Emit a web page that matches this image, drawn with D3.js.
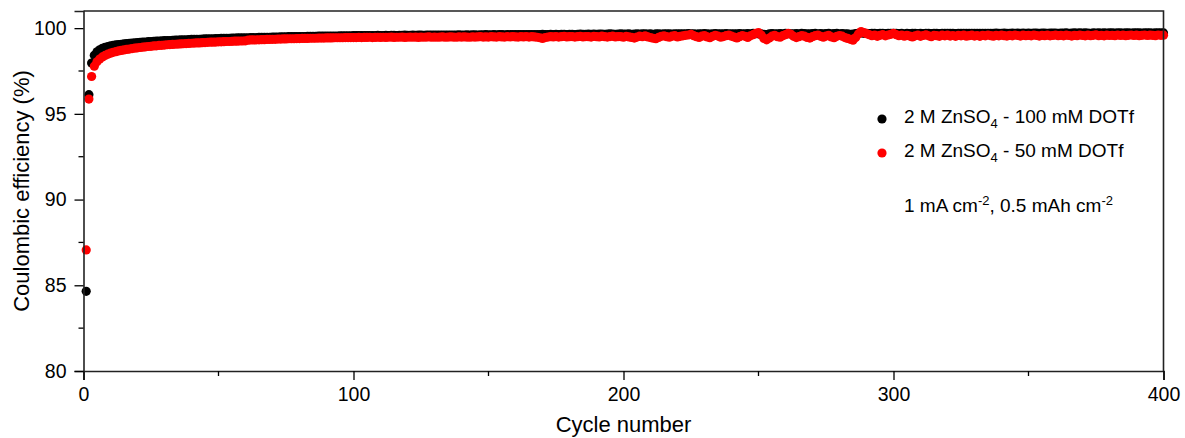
<!DOCTYPE html>
<html>
<head>
  <meta charset="utf-8">
  <script src="https://d3js.org/d3.v7.min.js"></script>
  <style>
    body { margin: 0; background: #fff; }
    svg text { font-family: Arial, "Liberation Sans", sans-serif; fill: #000; }
    .axis-title { font-size: 22px; }
    .legend { font-size: 19px; }
  </style>
</head>
<body>
  <div id="chart"></div>
  <script>
    // Coulombic efficiency (%) per cycle
    // 2 M ZnSO4 - 100 mM DOTf
    var ce100 = [
      84.65, 96.12, 97.96, 98.42, 98.62, 98.74, 98.82, 98.88, 98.92, 98.96, 98.99, 99.02, 99.04, 99.06, 99.08, 99.10, 99.11, 99.13, 99.14, 99.16,
      99.17, 99.18, 99.19, 99.21, 99.22, 99.23, 99.24, 99.25, 99.26, 99.27, 99.27, 99.28, 99.29, 99.30, 99.30, 99.31, 99.32, 99.32, 99.33, 99.34,
      99.34, 99.35, 99.35, 99.36, 99.37, 99.37, 99.38, 99.38, 99.39, 99.39, 99.40, 99.40, 99.41, 99.41, 99.42, 99.42, 99.43, 99.43, 99.43, 99.44,
      99.44, 99.45, 99.45, 99.45, 99.46, 99.46, 99.47, 99.47, 99.47, 99.48, 99.48, 99.48, 99.49, 99.49, 99.49, 99.50, 99.50, 99.50, 99.51, 99.51,
      99.51, 99.51, 99.52, 99.52, 99.52, 99.52, 99.53, 99.53, 99.53, 99.53, 99.54, 99.54, 99.54, 99.54, 99.55, 99.55, 99.55, 99.55, 99.55, 99.56,
      99.56, 99.56, 99.57, 99.56, 99.57, 99.57, 99.56, 99.57, 99.58, 99.57, 99.57, 99.58, 99.57, 99.58, 99.58, 99.57, 99.58, 99.58, 99.59, 99.58,
      99.58, 99.59, 99.58, 99.59, 99.59, 99.58, 99.59, 99.59, 99.60, 99.59, 99.59, 99.60, 99.59, 99.60, 99.60, 99.59, 99.60, 99.60, 99.61, 99.60,
      99.60, 99.61, 99.60, 99.61, 99.61, 99.60, 99.61, 99.61, 99.62, 99.61, 99.61, 99.62, 99.61, 99.62, 99.62, 99.61, 99.62, 99.62, 99.63, 99.62,
      99.62, 99.63, 99.62, 99.63, 99.62, 99.63, 99.63, 99.62, 99.63, 99.64, 99.63, 99.63, 99.64, 99.63, 99.64, 99.63, 99.64, 99.64, 99.63, 99.64,
      99.64, 99.63, 99.64, 99.65, 99.64, 99.64, 99.65, 99.64, 99.65, 99.64, 99.65, 99.65, 99.64, 99.65, 99.66, 99.65, 99.64, 99.65, 99.66, 99.65,
      99.65, 99.66, 99.64, 99.65, 99.66, 99.65, 99.66, 99.67, 99.65, 99.66, 99.64, 99.66, 99.67, 99.65, 99.66, 99.67, 99.66, 99.65, 99.67, 99.66,
      99.66, 99.67, 99.66, 99.68, 99.66, 99.67, 99.65, 99.66, 99.67, 99.68, 99.66, 99.65, 99.67, 99.68, 99.66, 99.67, 99.66, 99.68, 99.67, 99.66,
      99.67, 99.66, 99.68, 99.67, 99.66, 99.68, 99.67, 99.69, 99.68, 99.67, 99.66, 99.64, 99.62, 99.66, 99.68, 99.67, 99.66, 99.68, 99.67, 99.69,
      99.68, 99.67, 99.66, 99.68, 99.67, 99.69, 99.68, 99.66, 99.67, 99.68, 99.69, 99.67, 99.68, 99.66, 99.68, 99.69, 99.67, 99.68, 99.69, 99.67,
      99.68, 99.67, 99.66, 99.64, 99.65, 99.68, 99.70, 99.72, 99.70, 99.69, 99.68, 99.70, 99.69, 99.68, 99.70, 99.69, 99.68, 99.70, 99.69, 99.70,
      99.69, 99.68, 99.69, 99.67, 99.69, 99.68, 99.69, 99.70, 99.68, 99.69, 99.68, 99.70, 99.69, 99.68, 99.70, 99.69, 99.68, 99.70, 99.69, 99.70,
      99.69, 99.70, 99.68, 99.70, 99.69, 99.70, 99.69, 99.70, 99.69, 99.70, 99.70, 99.69, 99.70, 99.70, 99.69, 99.70, 99.70, 99.71, 99.69, 99.70,
      99.71, 99.70, 99.69, 99.71, 99.70, 99.71, 99.70, 99.71, 99.69, 99.71, 99.70, 99.71, 99.71, 99.70, 99.71, 99.71, 99.70, 99.71, 99.71, 99.71,
      99.70, 99.71, 99.71, 99.72, 99.70, 99.71, 99.72, 99.71, 99.72, 99.71, 99.72, 99.71, 99.70, 99.72, 99.71, 99.72, 99.71, 99.72, 99.71, 99.72,
      99.72, 99.71, 99.72, 99.72, 99.71, 99.72, 99.72, 99.71, 99.72, 99.72, 99.73, 99.71, 99.72, 99.72, 99.72, 99.71, 99.72, 99.72, 99.73, 99.72
    ];
    // 2 M ZnSO4 - 50 mM DOTf
    var ce50 = [
      87.06, 95.86, 97.18, 97.78, 98.04, 98.20, 98.32, 98.41, 98.48, 98.54, 98.59, 98.63, 98.67, 98.70, 98.73, 98.76, 98.78, 98.81, 98.83, 98.85,
      98.87, 98.89, 98.91, 98.93, 98.94, 98.96, 98.97, 98.99, 99.00, 99.01, 99.03, 99.04, 99.05, 99.06, 99.07, 99.08, 99.09, 99.10, 99.11, 99.12,
      99.13, 99.14, 99.14, 99.15, 99.16, 99.17, 99.18, 99.18, 99.19, 99.20, 99.20, 99.21, 99.22, 99.22, 99.23, 99.24, 99.24, 99.25, 99.25, 99.26,
      99.30, 99.31, 99.31, 99.32, 99.32, 99.33, 99.33, 99.34, 99.34, 99.35, 99.35, 99.36, 99.36, 99.37, 99.37, 99.38, 99.38, 99.38, 99.39, 99.39,
      99.40, 99.40, 99.40, 99.41, 99.41, 99.41, 99.42, 99.42, 99.42, 99.43, 99.43, 99.43, 99.44, 99.44, 99.44, 99.44, 99.45, 99.45, 99.45, 99.45,
      99.45, 99.46, 99.45, 99.46, 99.46, 99.47, 99.45, 99.46, 99.47, 99.46, 99.47, 99.46, 99.47, 99.48, 99.46, 99.47, 99.47, 99.48, 99.46, 99.47,
      99.48, 99.47, 99.48, 99.46, 99.48, 99.47, 99.48, 99.49, 99.47, 99.48, 99.47, 99.48, 99.49, 99.47, 99.48, 99.49, 99.48, 99.47, 99.49, 99.48,
      99.49, 99.48, 99.47, 99.49, 99.48, 99.49, 99.50, 99.48, 99.49, 99.48, 99.50, 99.49, 99.48, 99.50, 99.49, 99.48, 99.50, 99.49, 99.51, 99.49,
      99.48, 99.50, 99.49, 99.51, 99.48, 99.50, 99.49, 99.47, 99.44, 99.40, 99.45, 99.48, 99.50, 99.49, 99.51, 99.48, 99.50, 99.52, 99.49, 99.50,
      99.51, 99.48, 99.50, 99.52, 99.49, 99.51, 99.50, 99.48, 99.52, 99.50, 99.49, 99.53, 99.50, 99.48, 99.51, 99.53, 99.49, 99.51, 99.50, 99.47,
      99.52, 99.49, 99.46, 99.42, 99.48, 99.53, 99.50, 99.55, 99.49, 99.45, 99.41, 99.38, 99.46, 99.52, 99.55, 99.50, 99.47, 99.53, 99.56, 99.49,
      99.52, 99.55, 99.58, 99.60, 99.64, 99.56, 99.50, 99.46, 99.53, 99.57, 99.49, 99.44, 99.52, 99.58, 99.54, 99.47, 99.51, 99.56, 99.60, 99.53,
      99.48, 99.43, 99.50, 99.57, 99.52, 99.46, 99.55, 99.62, 99.70, 99.74, 99.60, 99.40, 99.32, 99.42, 99.53, 99.58, 99.50, 99.47, 99.56, 99.62,
      99.70, 99.64, 99.52, 99.45, 99.50, 99.57, 99.53, 99.46, 99.42, 99.50, 99.56, 99.60, 99.52, 99.47, 99.54, 99.58, 99.49, 99.44, 99.52, 99.57,
      99.53, 99.45, 99.40, 99.35, 99.30, 99.45, 99.66, 99.80, 99.74, 99.68, 99.62, 99.56, 99.60, 99.52, 99.58, 99.62, 99.55, 99.60, 99.64, 99.70,
      99.62, 99.56, 99.60, 99.53, 99.58, 99.54, 99.49, 99.55, 99.60, 99.52, 99.57, 99.61, 99.55, 99.50, 99.58, 99.56, 99.52, 99.59, 99.55, 99.60,
      99.54, 99.57, 99.52, 99.58, 99.55, 99.60, 99.53, 99.56, 99.59, 99.54, 99.57, 99.52, 99.58, 99.55, 99.60, 99.56, 99.53, 99.58, 99.55, 99.59,
      99.56, 99.54, 99.58, 99.55, 99.60, 99.57, 99.54, 99.59, 99.56, 99.58, 99.55, 99.60, 99.57, 99.54, 99.58, 99.56, 99.59, 99.55, 99.57, 99.60,
      99.56, 99.58, 99.55, 99.59, 99.57, 99.54, 99.58, 99.56, 99.60, 99.57, 99.55, 99.59, 99.56, 99.58, 99.61, 99.56, 99.58, 99.55, 99.59, 99.57,
      99.58, 99.56, 99.60, 99.57, 99.59, 99.56, 99.58, 99.60, 99.57, 99.59, 99.56, 99.58, 99.60, 99.57, 99.59, 99.58, 99.56, 99.60, 99.58, 99.59
    ];
    var cycles = d3.range(1, ce100.length + 1);

    var xTicks = [0, 100, 200, 300, 400];
    var xMinor = [50, 150, 250, 350];
    var yTicks = [80, 85, 90, 95, 100];
    var yMinor = [82.5, 87.5, 92.5, 97.5];

    var seriesNames = ["100 mM DOTf", "50 mM DOTf"];
    var seriesColors = ["#000000", "#ff0000"];
    var seriesData = [ce100, ce50];

    const width = 1185, height = 438;
    const margin = { top: 11, right: 21.5, bottom: 67, left: 83.5 };

    const svg = d3.select("#chart")
      .append("svg")
      .attr("width", width)
      .attr("height", height);

    const x = d3.scaleLinear()
      .domain([0, 400])
      .range([margin.left, width - margin.right]);

    const y = d3.scaleLinear()
      .domain([80, 101])
      .range([height - margin.bottom, margin.top]);

    // points: black first, red drawn over it
    seriesData.forEach(function (vals, i) {
      svg.append("g")
        .selectAll("circle")
        .data(vals)
        .enter().append("circle")
        .attr("cx", function (d, j) { return x(cycles[j]); })
        .attr("cy", function (d) { return y(d); })
        .attr("r", 4.6)
        .attr("fill", seriesColors[i]);
    });

    // frame (top + right)
    svg.append("path")
      .attr("d", "M" + x(0) + "," + y(101) + "H" + x(400) + "V" + y(80))
      .attr("fill", "none")
      .attr("stroke", "#222")
      .attr("stroke-width", 1.6);

    // bottom axis
    const xAxis = svg.append("g")
      .attr("transform", "translate(0," + y(80) + ")")
      .call(d3.axisBottom(x).tickValues(xTicks).tickSize(9).tickPadding(7).tickFormat(d3.format("d")));
    xAxis.append("g").selectAll("line")
      .data(xMinor)
      .enter().append("line")
      .attr("x1", d => x(d)).attr("x2", d => x(d))
      .attr("y1", 0).attr("y2", 5)
      .attr("stroke", "#000");

    // left axis
    const yAxis = svg.append("g")
      .attr("transform", "translate(" + x(0) + ",0)")
      .call(d3.axisLeft(y).tickValues(yTicks).tickSize(9).tickPadding(8).tickFormat(d3.format("d")));
    yAxis.append("g").selectAll("line")
      .data(yMinor)
      .enter().append("line")
      .attr("y1", d => y(d)).attr("y2", d => y(d))
      .attr("x1", 0).attr("x2", -5)
      .attr("stroke", "#000");

    [xAxis, yAxis].forEach(function (ax) {
      ax.attr("font-size", null).attr("font-family", null);
      ax.select(".domain").attr("stroke", "#222").attr("stroke-width", 1.6);
      ax.selectAll("line").attr("stroke", "#000").attr("stroke-width", 1.3);
      ax.selectAll(".tick text")
        .attr("fill", "#000")
        .style("font-size", "19.5px")
        .style("font-family", "Arial, 'Liberation Sans', sans-serif");
    });

    // axis titles
    svg.append("text")
      .attr("class", "axis-title")
      .attr("x", (x(0) + x(400)) / 2)
      .attr("y", 432)
      .attr("text-anchor", "middle")
      .text("Cycle number");

    svg.append("text")
      .attr("class", "axis-title")
      .attr("transform", "translate(29," + (y(80) + y(101)) / 2 + ") rotate(-90)")
      .attr("text-anchor", "middle")
      .text("Coulombic efficiency (%)");

    // legend
    var legendY = [123, 157];
    seriesNames.forEach(function (name, i) {
      svg.append("circle")
        .attr("cx", 882)
        .attr("cy", legendY[i] - 4)
        .attr("r", 4.6)
        .attr("fill", seriesColors[i]);
      var t = svg.append("text")
        .attr("class", "legend")
        .attr("x", 904)
        .attr("y", legendY[i]);
      t.append("tspan").text("2 M ZnSO");
      t.append("tspan").attr("dy", 5).style("font-size", "13px").text("4");
      t.append("tspan").attr("dy", -5).text(" - " + name);
    });

    var cond = svg.append("text")
      .attr("class", "legend")
      .attr("x", 904)
      .attr("y", 212);
    cond.append("tspan").text("1 mA cm");
    cond.append("tspan").attr("dy", -7).style("font-size", "13px").text("-2");
    cond.append("tspan").attr("dy", 7).text(", 0.5 mAh cm");
    cond.append("tspan").attr("dy", -7).style("font-size", "13px").text("-2");
  </script>
</body>
</html>
